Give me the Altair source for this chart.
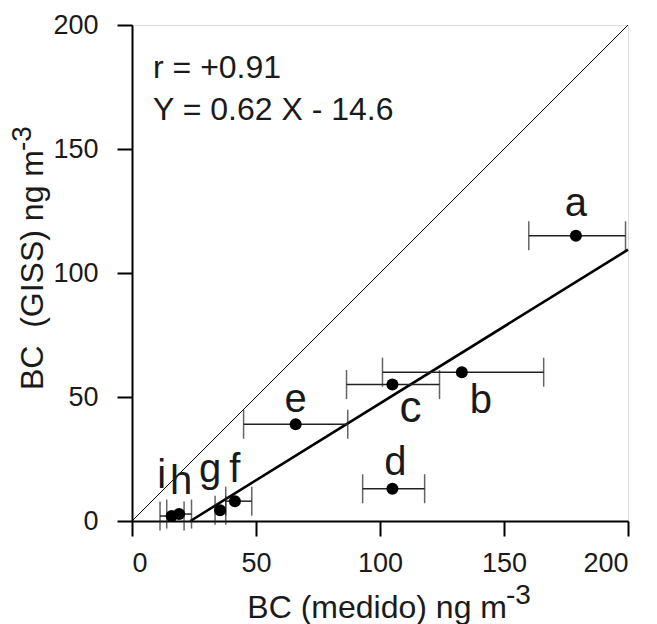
import altair as alt
import pandas as pd

# ---- data ----
labels = ["a", "b", "c", "d", "e", "f", "g", "h", "i"]
bc_medido = [179, 133, 105, 105, 66, 41.5, 35.5, 19, 16]
bc_giss = [115, 60, 55, 13, 39, 8, 4.3, 2.8, 2]
err_lo = [160, 101, 86.5, 93, 45, 37.8, 33.5, 14, 11.3]
err_hi = [199, 166, 124, 118, 87, 48.3, 37.8, 24, 21]

slope, intercept = 0.62, -14.6
axis_ticks = [0, 50, 100, 150, 200]

# label offsets in pixels (dx, dy), style only
label_offsets = {
    "a": (0, -20), "b": (19, 41), "c": (18, 37), "d": (3, -14), "e": (0, -12),
    "f": (0, -19), "g": (-10, -28), "h": (2, -20), "i": (-10, -28),
}

FONT = "Liberation Sans"
TXT = "#1a1a1a"

df = pd.DataFrame({"lab": labels, "x": bc_medido, "y": bc_giss, "lo": err_lo, "hi": err_hi})
x0 = -intercept / slope
fit = pd.DataFrame({"x": [x0, 200], "y": [0, slope * 200 + intercept]})
one = pd.DataFrame({"x": [0, 200], "y": [0, 200]})

xs = alt.Scale(domain=[0, 200], nice=False, zero=False)
ys = alt.Scale(domain=[0, 200], nice=False, zero=False)

common_axis = dict(values=axis_ticks, grid=False, tickSize=15, tickWidth=2, domainWidth=2,
                   domainColor="black", tickColor="black", labelFont=FONT, labelFontSize=27,
                   labelColor=TXT, title=None)
xaxis = alt.Axis(labelPadding=14, **common_axis)
yaxis = alt.Axis(labelPadding=19, **common_axis)

base = alt.Chart(df)

oneline = alt.Chart(one).mark_line(color="black", strokeWidth=1).encode(
    x=alt.X("x:Q", scale=xs, axis=xaxis), y=alt.Y("y:Q", scale=ys, axis=yaxis))
fitline = alt.Chart(fit).mark_line(color="black", strokeWidth=2.6).encode(
    x=alt.X("x:Q", scale=xs), y=alt.Y("y:Q", scale=ys))

errs = base.mark_rule(color="#222", strokeWidth=1.5).encode(
    x=alt.X("lo:Q", scale=xs), x2="hi:Q", y=alt.Y("y:Q", scale=ys))
cap_lo = base.mark_tick(color="#222", thickness=1.5, size=29, orient="vertical").encode(
    x=alt.X("lo:Q", scale=xs), y=alt.Y("y:Q", scale=ys))
cap_hi = base.mark_tick(color="#222", thickness=1.5, size=29, orient="vertical").encode(
    x=alt.X("hi:Q", scale=xs), y=alt.Y("y:Q", scale=ys))
pts = base.mark_circle(color="black", size=145, opacity=1).encode(
    x=alt.X("x:Q", scale=xs), y=alt.Y("y:Q", scale=ys))

label_layers = []
for lab in labels:
    dx, dy = label_offsets[lab]
    fs = 44 if lab == "c" else 40
    label_layers.append(
        base.transform_filter(alt.datum.lab == lab).mark_text(
            font=FONT, fontSize=fs, color=TXT, dx=dx, dy=dy,
            baseline="alphabetic", align="center").encode(
            x=alt.X("x:Q", scale=xs), y=alt.Y("y:Q", scale=ys), text="lab:N"))

ann = pd.DataFrame({"t": ["r = +0.91", "Y = 0.62 X - 14.6"], "py": [53, 95]})
annot = alt.Chart(ann).mark_text(font=FONT, fontSize=32, color=TXT, align="left",
                                 baseline="alphabetic").encode(
    x=alt.value(21), y=alt.Y("py:Q", scale=None), text="t:N")

# axis titles with raised exponent
xt = alt.Chart(pd.DataFrame({"t": ["BC (medido) ng m"]})).mark_text(
    font=FONT, fontSize=32, color=TXT, align="right", baseline="alphabetic").encode(
    x=alt.value(375), y=alt.value(593), text="t:N")
sup_x = alt.Chart(pd.DataFrame({"t": ["-3"]})).mark_text(
    font=FONT, fontSize=28, color=TXT, align="left", baseline="alphabetic").encode(
    x=alt.value(374), y=alt.value(579), text="t:N")
yt = alt.Chart(pd.DataFrame({"t": ["BC\u00a0\u00a0(GISS) ng m"]})).mark_text(
    font=FONT, fontSize=32, color=TXT, align="right", baseline="alphabetic", angle=270).encode(
    x=alt.value(-89), y=alt.value(125), text="t:N")
sup_y = alt.Chart(pd.DataFrame({"t": ["-3"]})).mark_text(
    font=FONT, fontSize=28, color=TXT, align="left", baseline="alphabetic", angle=270).encode(
    x=alt.value(-101), y=alt.value(126), text="t:N")

chart = alt.layer(oneline, fitline, errs, cap_lo, cap_hi, pts, *label_layers, annot,
                  xt, sup_x, yt, sup_y).properties(
    width=496, height=496,
    autosize=alt.AutoSizeParams(type="none"),
    padding={"left": 132, "top": 25, "right": 29, "bottom": 103},
).configure_view(stroke="black", strokeWidth=2).configure(background="white")

chart.save("out.html", embed_options={"renderer": "svg", "actions": False})
